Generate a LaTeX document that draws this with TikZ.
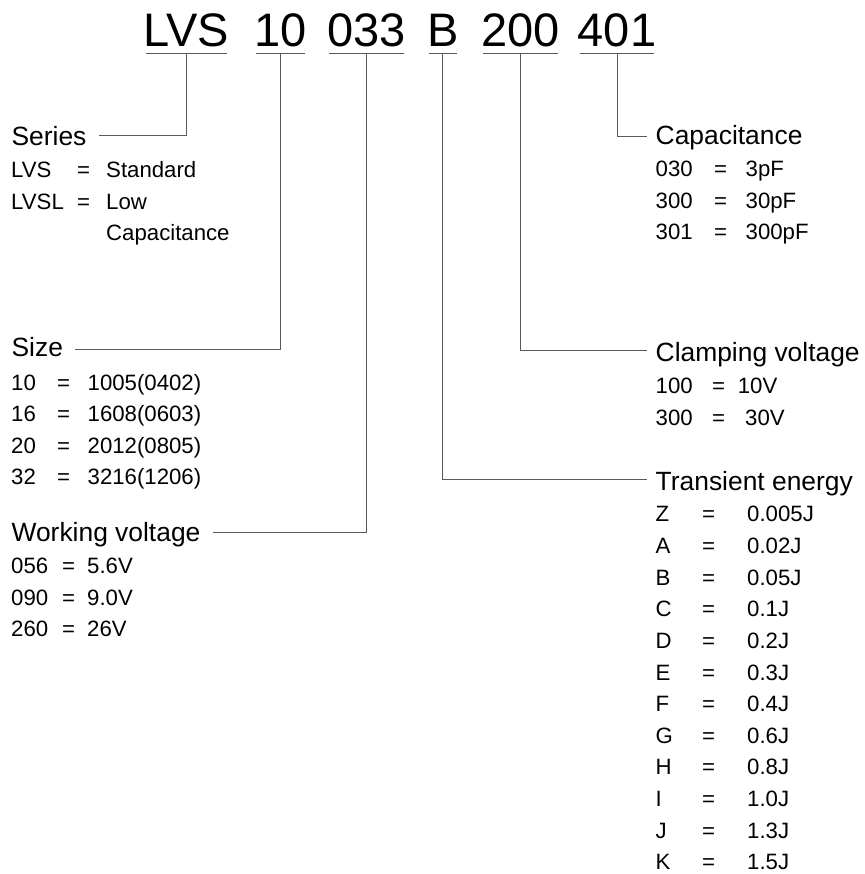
\documentclass[tikz,border=0pt]{standalone}
\usepackage{fontspec}
\setmainfont{Liberation Sans}
\begin{document}
\begin{tikzpicture}[x=1pt,y=-1pt,
  code/.style={font=\fontsize{47}{47}\selectfont, inner xsep=-2pt, inner ysep=0pt, text depth=6.6pt, anchor=base},
  head/.style={font=\fontsize{26.4}{30}\selectfont, inner ysep=0pt, text depth=0pt, anchor=base west},
  lhead/.style={head, inner xsep=12pt},
  rhead/.style={head, inner xsep=9pt},
  item/.style={font=\fontsize{22.2}{26}\selectfont, inner sep=0pt, anchor=base west},
  link/.style={draw=black!65, line width=1pt},
  uline/.style={draw=black!65, line width=1.4pt}]
\useasboundingbox (0,0) rectangle (864,874);

% code parts
\node[code] (cLVS) at (186.5,46.7) {LVS};
\node[code] (cSize) at (280.6,46.7) {10};
\node[code] (cWork) at (366.8,46.7) {033};
\node[code] (cEner) at (442.8,46.7) {B};
\node[code] (cClamp) at (520.5,46.7) {200};
\node[code] (cCap) at (617,46.7) {401};
\foreach \n in {cLVS,cSize,cWork,cEner,cClamp,cCap}
  \draw[uline] (\n.south west) -- (\n.south east);

% headings
\node[lhead, text height=20.6pt] (hSer) at (-0.6,146) {Series};
\node[lhead, text height=14.8pt] (hSize) at (-0.6,356.7) {Size};
\node[lhead, text height=18.8pt] (hWork) at (-0.6,541.7) {Working voltage};
\node[rhead, text height=16.6pt] (hCap) at (646.5,145) {Capacitance};
\node[rhead, text height=23.4pt] (hClamp) at (646.5,361.7) {Clamping voltage};
\node[rhead, text height=22pt] (hEner) at (646.5,490) {Transient energy};

% connectors
\draw[link] (cLVS.south) |- (hSer.east);
\draw[link] (cSize.south) |- (hSize.east);
\draw[link] (cWork.south) |- (hWork.east);
\draw[link] (cEner.south) |- (hEner.west);
\draw[link] (cClamp.south) |- (hClamp.west);
\draw[link] (cCap.south) |- (hCap.west);

% Series items
\node[item] (s1k) at (11,177.3) {LVS};
\node[item] (s1e) at (77,177.3) {=};
\node[item] (s1v) at (106,177.3) {Standard};
\node[item] (s2k) at (11,209.5) {LVSL};
\node[item] (s2e) at (77,209.5) {=};
\node[item] (s2v) at (106,209.5) {Low};
\node[item] (s3v) at (106,240.7) {Capacitance};

% Size items
\foreach \k/\v [count=\i] in {10/1005(0402),16/1608(0603),20/2012(0805),32/3216(1206)}{
  \node[item] (z\i k) at (11,{390+31.5*(\i-1)}) {\k};
  \node[item] (z\i e) at (57,{390+31.5*(\i-1)}) {=};
  \node[item] (z\i v) at (87.5,{390+31.5*(\i-1)}) {\v};
}

% Working voltage items
\foreach \k/\v [count=\i] in {056/5.6V,090/9.0V,260/26V}{
  \node[item] (w\i k) at (11,{573.3+31.7*(\i-1)}) {\k};
  \node[item] (w\i e) at (62,{573.3+31.7*(\i-1)}) {=};
  \node[item] (w\i v) at (87,{573.3+31.7*(\i-1)}) {\v};
}

% Capacitance items
\foreach \k/\v [count=\i] in {030/3pF,300/30pF,301/300pF}{
  \node[item] (p\i k) at (655.5,{176.7+31.65*(\i-1)}) {\k};
  \node[item] (p\i e) at (714,{176.7+31.65*(\i-1)}) {=};
  \node[item] (p\i v) at (745.5,{176.7+31.65*(\i-1)}) {\v};
}

% Clamping voltage items
\node[item] (v1k) at (655.5,393.3) {100};
\node[item] (v1e) at (712,393.3) {=};
\node[item] (v1v) at (737.6,393.3) {10V};
\node[item] (v2k) at (655.5,425) {300};
\node[item] (v2e) at (712,425) {=};
\node[item] (v2v) at (745,425) {30V};

% Transient energy items
\foreach \k/\v [count=\i] in {Z/0.005J,A/0.02J,B/0.05J,C/0.1J,D/0.2J,E/0.3J,F/0.4J,G/0.6J,H/0.8J,I/1.0J,J/1.3J,K/1.5J}{
  \node[item] (e\i k) at (655.5,{521.7+31.66*(\i-1)}) {\k};
  \node[item] (e\i e) at (702,{521.7+31.66*(\i-1)}) {=};
  \node[item] (e\i v) at (747,{521.7+31.66*(\i-1)}) {\v};
}
\end{tikzpicture}
\end{document}
